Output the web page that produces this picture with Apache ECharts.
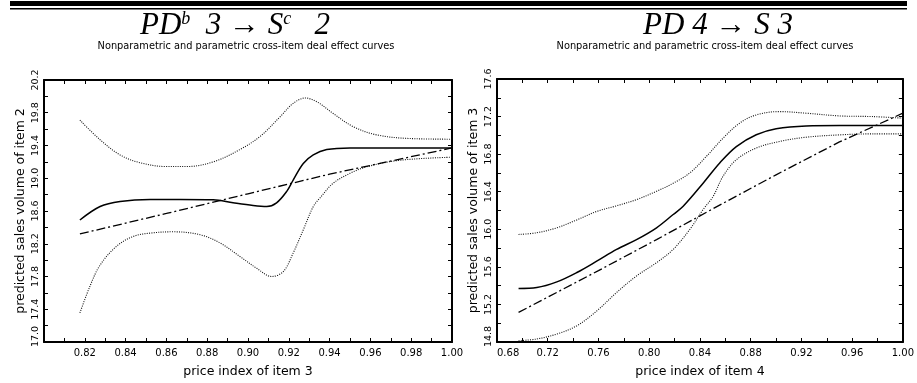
<!DOCTYPE html>
<html><head><meta charset="utf-8">
<script src="https://cdn.jsdelivr.net/npm/echarts@6/dist/echarts.min.js"></script>
<style>html,body{margin:0;padding:0;background:#fff}#c{width:917px;height:383px}</style>
</head><body><div id="c"></div>
<script>
// ---- Left panel: PD 3 -> S 2 ----
const leftSolidX = [0.8176,0.8275,0.8373,0.852,0.8667,0.883,0.8927,0.9025,0.9092,0.914,0.919,0.9222,0.9271,0.932,0.9386,0.95,0.97,1.0];
const leftSolidY = [18.49,18.655,18.716,18.74,18.74,18.737,18.70,18.667,18.655,18.70,18.84,18.98,19.18,19.285,19.35,19.37,19.37,19.37];
const leftUpperX = [0.8176,0.8275,0.8373,0.847,0.860,0.870,0.883,0.896,0.9059,0.9157,0.9222,0.928,0.9337,0.9418,0.9516,0.963,0.9794,1.0];
const leftUpperY = [19.71,19.47,19.285,19.19,19.143,19.143,19.20,19.35,19.51,19.75,19.915,19.98,19.935,19.79,19.63,19.53,19.485,19.477];
const leftLowerX = [0.8176,0.8225,0.8275,0.8356,0.8438,0.852,0.8634,0.8765,0.8863,0.896,0.9043,0.9116,0.9173,0.9222,0.9271,0.932,0.9353,0.9418,0.95,0.9582,0.9745,1.0];
const leftLowerY = [17.355,17.68,17.94,18.17,18.29,18.33,18.346,18.31,18.21,18.045,17.90,17.80,17.86,18.09,18.37,18.655,18.76,18.94,19.06,19.14,19.22,19.257];
const leftParamX = [0.8176,0.86,0.90,0.94,1.0];
const leftParamY = [18.32,18.57,18.81,19.05,19.37];

// ---- Right panel: PD 4 -> S 3 ----
const rightSolidX = [0.697,0.7114,0.7272,0.743,0.7586,0.7743,0.790,0.8058,0.8189,0.8268,0.8425,0.8556,0.8687,0.8844,0.9001,0.9237,0.95,1.0];
const rightSolidY = [15.37,15.38,15.44,15.54,15.66,15.786,15.89,16.016,16.157,16.245,16.49,16.706,16.88,17.006,17.07,17.10,17.104,17.104];
const rightUpperX = [0.697,0.7114,0.7272,0.743,0.7586,0.7743,0.790,0.8058,0.8189,0.832,0.8451,0.8582,0.8713,0.8844,0.9027,0.9237,0.9499,0.9761,1.0];
const rightUpperY = [15.945,15.963,16.016,16.10,16.19,16.25,16.316,16.405,16.49,16.60,16.776,16.97,17.13,17.218,17.253,17.236,17.207,17.20,17.183];
const rightLowerX = [0.697,0.7114,0.7272,0.743,0.7586,0.7743,0.790,0.8058,0.8189,0.832,0.8425,0.8504,0.8582,0.8687,0.8844,0.9027,0.9237,0.9499,0.9761,1.0];
const rightLowerY = [14.814,14.832,14.885,14.973,15.13,15.327,15.503,15.645,15.786,15.998,16.21,16.35,16.564,16.74,16.865,16.935,16.98,17.005,17.016,17.016];
const rightParamX = [0.697,0.76,0.8058,0.8477,0.90,0.95,1.0];
const rightParamY = [15.115,15.56,15.89,16.20,16.58,16.93,17.236];

// ---- Texts ----
const subtitle = 'Nonparametric and parametric cross-item deal effect curves';
const leftXName = 'price index of item 3';
const leftYName = 'predicted sales volume of item 2';
const rightXName = 'price index of item 4';
const rightYName = 'predicted sales volume of item 3';

const zip = (xs, ys) => xs.map((x, i) => [x, ys[i]]);
const FONT = 'DejaVu Sans';
const axisLineStyle = {show: true, onZero: false, lineStyle: {color: '#000', width: 2}};
const tickStyle = {show: true, inside: true, length: 4, lineStyle: {color: '#000', width: 1}};

function xAx(grid, min, max, interval, fmt, name, top) {
  return {
    type: 'value', gridIndex: grid, min, max, interval, position: top ? 'top' : 'bottom',
    axisLine: axisLineStyle, axisTick: tickStyle, splitLine: {show: false},
    axisLabel: top ? {show: false} : {show: true, margin: 6, color: '#000', fontFamily: FONT, fontSize: 10, formatter: fmt, alignMinLabel: 'left'},
    name: top ? '' : name, nameLocation: 'middle', nameGap: 23,
    nameTextStyle: {color: '#000', fontFamily: FONT, fontSize: 12.5}
  };
}
function yAx(grid, min, max, interval, fmt, name, right) {
  return {
    type: 'value', gridIndex: grid, min, max, interval, position: right ? 'right' : 'left',
    axisLine: axisLineStyle, axisTick: tickStyle, splitLine: {show: false},
    axisLabel: right ? {show: false} : {show: true, rotate: 90, margin: 3, color: '#000', fontFamily: FONT, fontSize: 9.5, formatter: fmt,
      rich: {m: {fontFamily: FONT, fontSize: 9.5, color: '#000', padding: [0, 0, 0, 11]}, n: {fontFamily: FONT, fontSize: 9.5, color: '#000'}}},
    name: right ? '' : name, nameLocation: 'middle', nameGap: 17, nameRotate: 90,
    nameTextStyle: {color: '#000', fontFamily: FONT, fontSize: 12.5}
  };
}
const fmtLX = v => { const k = Math.round(v * 100); return (k % 2 === 0 && k > 80) ? v.toFixed(2) : ''; };
const fmtRX = v => { const k = Math.round(v * 100); return (k % 4 === 0) ? v.toFixed(2) : ''; };
const fmtLY = v => { const k = Math.round(v * 10); if (k % 4 !== 2) return ''; return k === 170 ? '{m|' + v.toFixed(1) + '}' : '{n|' + v.toFixed(1) + '}'; };
const fmtRY = v => { const k = Math.round(v * 10); if (k % 4 !== 0) return ''; return k === 148 ? '{m|' + v.toFixed(1) + '}' : '{n|' + v.toFixed(1) + '}'; };

function ser(xi, yi, data, kind) {
  const ls = kind === 'solid' ? {color: '#000', width: 1.5, type: 'solid'}
    : kind === 'dot' ? {color: '#111', width: 1.1, type: [1, 1.3]}
    : {color: '#000', width: 1.3, type: [9, 3, 2, 3]};
  return {type: 'line', xAxisIndex: xi, yAxisIndex: yi, data, showSymbol: false, symbol: 'none',
    smooth: kind === 'param' ? false : 0.35, lineStyle: ls, silent: true, animation: false};
}

const titleStyle = {
  a: {fontFamily: 'Liberation Serif', fontStyle: 'italic', fontSize: 31, color: '#000'},
  s: {fontFamily: 'Liberation Serif', fontStyle: 'italic', fontSize: 18, color: '#000', padding: [0, 0, 14, 0]}
};

const option = {
  animation: false,
  backgroundColor: '#fff',
  grid: [
    {left: 44, top: 80, width: 408, height: 262.5},
    {left: 497, top: 79, width: 407, height: 264}
  ],
  xAxis: [
    xAx(0, 0.80, 1.00, 0.01, fmtLX, leftXName, false),
    xAx(0, 0.80, 1.00, 0.01, fmtLX, '', true),
    xAx(1, 0.68, 1.00, 0.02, fmtRX, rightXName, false),
    xAx(1, 0.68, 1.00, 0.02, fmtRX, '', true)
  ],
  yAxis: [
    yAx(0, 17.0, 20.2, 0.2, fmtLY, leftYName, false),
    yAx(0, 17.0, 20.2, 0.2, fmtLY, '', true),
    yAx(1, 14.8, 17.6, 0.2, fmtRY, rightYName, false),
    yAx(1, 14.8, 17.6, 0.2, fmtRY, '', true)
  ],
  series: [
    ser(0, 0, zip(leftUpperX, leftUpperY), 'dot'),
    ser(0, 0, zip(leftLowerX, leftLowerY), 'dot'),
    ser(0, 0, zip(leftParamX, leftParamY), 'param'),
    ser(0, 0, zip(leftSolidX, leftSolidY), 'solid'),
    ser(2, 2, zip(rightUpperX, rightUpperY), 'dot'),
    ser(2, 2, zip(rightLowerX, rightLowerY), 'dot'),
    ser(2, 2, zip(rightParamX, rightParamY), 'param'),
    ser(2, 2, zip(rightSolidX, rightSolidY), 'solid')
  ],
  graphic: [
    {type: 'rect', shape: {x: 10, y: 1, width: 897, height: 5}, style: {fill: '#000'}},
    {type: 'rect', shape: {x: 10, y: 8, width: 897, height: 1.5}, style: {fill: '#000'}},
    {type: 'text', x: 235, y: 26, style: {text: '{a|PD}{s|b}{a|  3 → S}{s|c}{a|   2}', rich: titleStyle, align: 'center', verticalAlign: 'middle'}},
    {type: 'text', x: 718, y: 26, style: {text: '{a|PD 4 → S 3}', rich: titleStyle, align: 'center', verticalAlign: 'middle'}},
    {type: 'text', x: 246, y: 46, style: {text: subtitle, fontFamily: FONT, fontSize: 9.8, fill: '#000', align: 'center', verticalAlign: 'middle'}},
    {type: 'text', x: 705, y: 46, style: {text: subtitle, fontFamily: FONT, fontSize: 9.8, fill: '#000', align: 'center', verticalAlign: 'middle'}}
  ]
};
const chart = echarts.init(document.getElementById('c'), null, {renderer: 'canvas'});
chart.setOption(option);
</script></body></html>
